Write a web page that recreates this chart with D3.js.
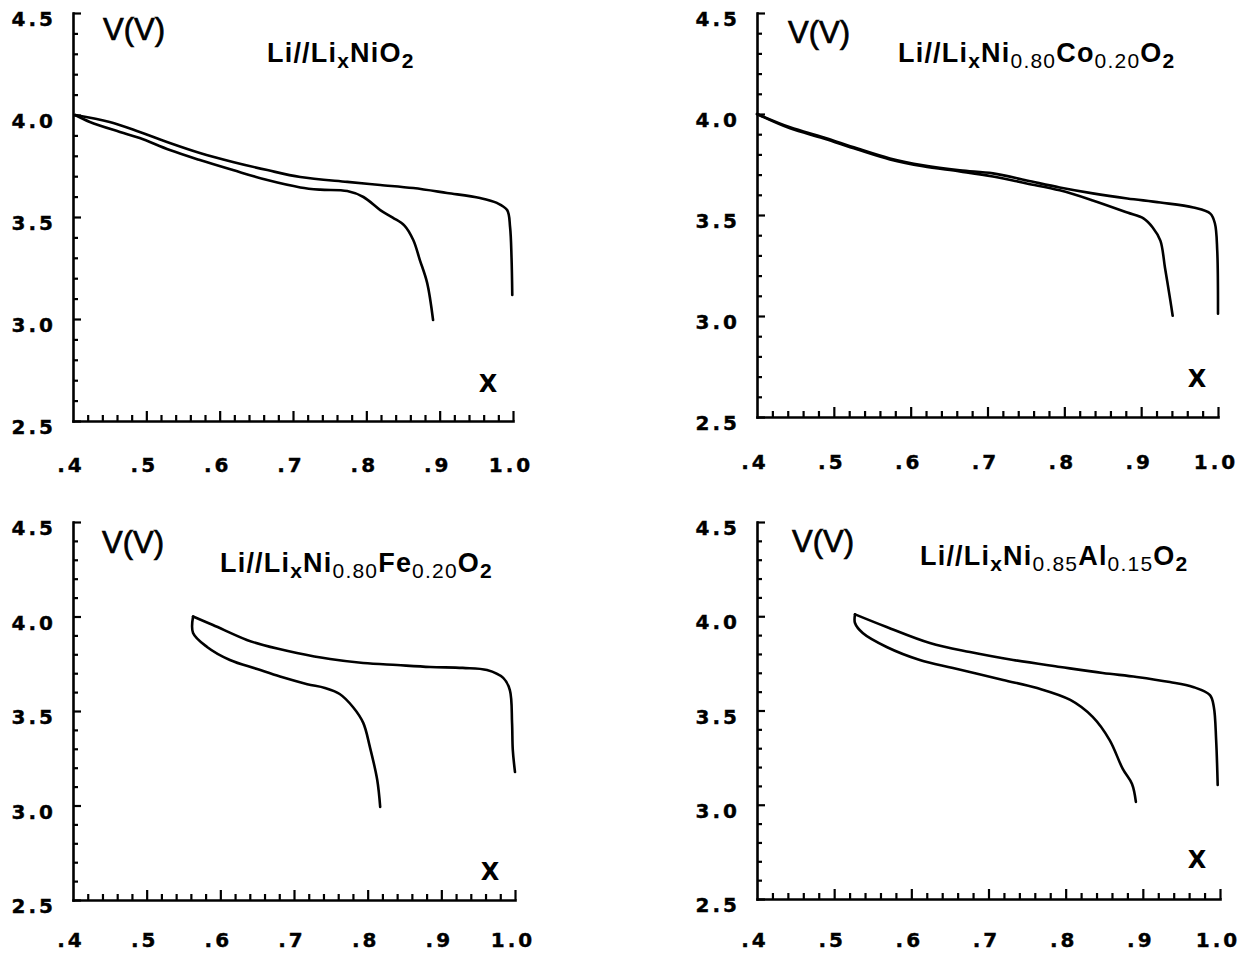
<!DOCTYPE html>
<html><head><meta charset="utf-8">
<script src="https://cdn.jsdelivr.net/npm/d3@7"></script>
<style>body{margin:0;background:#fff}svg{display:block}</style>
</head><body>
<svg id="c" width="1258" height="957"></svg>
<script>
// ---- tick values / labels ----
const yMajorValues = [2.5, 3.0, 3.5, 4.0, 4.5];
const yMajorLabels = ["2.5", "3.0", "3.5", "4.0", "4.5"];
const yMinorValues = [2.6,2.7,2.8,2.9,3.1,3.2,3.3,3.4,3.6,3.7,3.8,3.9,4.1,4.2,4.3,4.4];
const xMajorValues = [0.4, 0.5, 0.6, 0.7, 0.8, 0.9, 1.0];
const xMajorLabels = [".4", ".5", ".6", ".7", ".8", ".9", "1.0"];
const xMinorValues = [0.42,0.44,0.46,0.48,0.52,0.54,0.56,0.58,0.62,0.64,0.66,0.68,0.72,0.74,0.76,0.78,0.82,0.84,0.86,0.88,0.92,0.94,0.96,0.98];
const yAxisLabel = "V(V)";
const xAxisLabel = "X";

// ---- titles (segments; 1 = subscript) ----
const title1 = [["Li//Li",0],["x",1],["NiO",0],["2",1]];
const title2 = [["Li//Li",0],["x",1],["Ni",0],["0.80",1],["Co",0],["0.20",1],["O",0],["2",1]];
const title3 = [["Li//Li",0],["x",1],["Ni",0],["0.80",1],["Fe",0],["0.20",1],["O",0],["2",1]];
const title4 = [["Li//Li",0],["x",1],["Ni",0],["0.85",1],["Al",0],["0.15",1],["O",0],["2",1]];

// ---- series: [x, V] ----
const niO2Charge = [[0.403,4.0],[0.450,3.966],[0.491,3.917],[0.532,3.863],[0.573,3.814],[0.618,3.770],[0.665,3.730],[0.710,3.696],[0.774,3.672],[0.819,3.657],[0.864,3.642],[0.910,3.618],[0.955,3.593],[0.978,3.569],[0.992,3.534],[0.996,3.451],[0.998,3.30],[0.999,3.118]];
const niO2Discharge = [[0.403,4.0],[0.423,3.966],[0.464,3.917],[0.491,3.887],[0.532,3.828],[0.573,3.779],[0.618,3.730],[0.665,3.681],[0.710,3.645],[0.737,3.634],[0.774,3.627],[0.796,3.598],[0.819,3.534],[0.836,3.497],[0.852,3.458],[0.864,3.387],[0.873,3.289],[0.883,3.176],[0.891,2.995]];

const coCharge = [[0.400,4.0],[0.443,3.934],[0.486,3.885],[0.530,3.830],[0.573,3.780],[0.616,3.746],[0.664,3.721],[0.707,3.706],[0.751,3.671],[0.794,3.636],[0.837,3.607],[0.882,3.582],[0.925,3.562],[0.968,3.537],[0.990,3.507],[0.996,3.458],[0.999,3.324],[1.000,3.011]];
const coDischarge = [[0.400,4.0],[0.443,3.929],[0.486,3.880],[0.530,3.825],[0.573,3.775],[0.616,3.741],[0.664,3.716],[0.707,3.691],[0.751,3.656],[0.794,3.622],[0.837,3.572],[0.882,3.512],[0.903,3.483],[0.915,3.438],[0.925,3.373],[0.931,3.239],[0.938,3.076],[0.941,3.001]];

const feCharge = [[0.563,4.0],[0.590,3.955],[0.636,3.876],[0.658,3.849],[0.704,3.807],[0.749,3.775],[0.794,3.754],[0.840,3.743],[0.885,3.733],[0.929,3.728],[0.962,3.717],[0.984,3.675],[0.993,3.611],[0.996,3.437],[0.997,3.294],[1.000,3.177]];
const feDischarge = [[0.563,4.0],[0.563,3.913],[0.582,3.839],[0.613,3.770],[0.650,3.722],[0.681,3.682],[0.718,3.642],[0.742,3.622],[0.762,3.590],[0.780,3.521],[0.794,3.437],[0.803,3.310],[0.813,3.135],[0.817,2.992]];

const alCharge = [[0.527,4.01],[0.568,3.943],[0.624,3.858],[0.676,3.810],[0.732,3.768],[0.793,3.731],[0.848,3.699],[0.892,3.678],[0.935,3.651],[0.965,3.625],[0.987,3.582],[0.992,3.519],[0.995,3.343],[0.997,3.105]];
const alDischarge = [[0.527,4.01],[0.527,3.964],[0.537,3.911],[0.568,3.837],[0.611,3.768],[0.654,3.725],[0.719,3.662],[0.763,3.619],[0.806,3.556],[0.835,3.466],[0.857,3.343],[0.874,3.190],[0.886,3.110],[0.891,3.015]];

// ---- layout (positions only) ----
const panels = [
  {L:73, R:513, T:13, B:421, title:title1, tx:267, ty:62, vx:103, vy:40, Xx:488, Xy:392, xly:472, series:[niO2Charge, niO2Discharge]},
  {L:757, R:1218, T:13, B:417, title:title2, tx:898, ty:62, vx:788, vy:43, Xx:1197, Xy:387, xly:469, series:[coCharge, coDischarge]},
  {L:73, R:515, T:522, B:900, title:title3, tx:220, ty:572, vx:102, vy:553, Xx:490, Xy:880, xly:947, series:[feCharge, feDischarge]},
  {L:757, R:1220, T:522, B:899, title:title4, tx:920, ty:565, vx:792, vy:552, Xx:1197, Xy:868, xly:947, series:[alCharge, alDischarge]}
];

const svg = d3.select("#c");
const tickFont = "'DejaVu Sans', sans-serif";

panels.forEach(p => {
  const x = d3.scaleLinear().domain([0.4, 1.0]).range([p.L, p.R]);
  const y = d3.scaleLinear().domain([2.5, 4.5]).range([p.B, p.T]);
  const g = svg.append("g");

  // y axis
  const gy = g.append("g").attr("transform", `translate(${p.L},0)`);
  gy.call(d3.axisLeft(y).tickValues(yMajorValues).tickSize(-8).tickSizeOuter(0).tickFormat(""));
  gy.append("g").call(d3.axisLeft(y).tickValues(yMinorValues).tickSize(-5).tickSizeOuter(0).tickFormat("")).select(".domain").remove();
  // x axis
  const gx = g.append("g").attr("transform", `translate(0,${p.B})`);
  gx.call(d3.axisBottom(x).tickValues(xMajorValues.slice(1)).tickSize(-10).tickSizeOuter(0).tickFormat(""));
  gx.append("g").call(d3.axisBottom(x).tickValues(xMinorValues).tickSize(-6).tickSizeOuter(0).tickFormat("")).select(".domain").remove();

  g.selectAll(".domain").attr("stroke", "#000").attr("stroke-width", 2.6).attr("stroke-linecap","square");
  g.selectAll(".tick line").attr("stroke", "#000").attr("stroke-width", 2.2);

  // y tick labels
  g.selectAll(".ylab").data(yMajorValues).enter().append("text")
    .attr("x", p.L - 17).attr("y", d => y(d) + 13)
    .attr("text-anchor", "end")
    .style("font-family", tickFont).style("font-weight", "bold").style("font-size", "20px")
    .style("letter-spacing", "3px")
    .attr("stroke", "#000").attr("stroke-width", 0.4)
    .text((d, i) => yMajorLabels[i]);
  // x tick labels
  g.selectAll(".xlab").data(xMajorValues).enter().append("text")
    .attr("x", d => x(d) - 2).attr("y", p.xly)
    .attr("text-anchor", "middle")
    .style("font-family", tickFont).style("font-weight", "bold").style("font-size", "20px")
    .style("letter-spacing", "3px")
    .attr("stroke", "#000").attr("stroke-width", 0.4)
    .text((d, i) => xMajorLabels[i]);

  // V(V)
  g.append("text").attr("x", p.vx).attr("y", p.vy)
    .style("font-family", "'Liberation Sans', Arial, sans-serif").style("font-size", "31px")
    .attr("stroke", "#000").attr("stroke-width", 0.7)
    .text(yAxisLabel);
  // X
  g.append("text").attr("x", p.Xx).attr("y", p.Xy).attr("text-anchor", "middle")
    .style("font-family", tickFont).style("font-weight", "bold").style("font-size", "24px")
    .text(xAxisLabel);

  // title
  const t = g.append("text").attr("x", p.tx).attr("y", p.ty)
    .style("font-family", "'Liberation Sans', Arial, sans-serif").style("font-weight", "bold")
    .style("font-size", "27px").style("letter-spacing", "1.2px");
  let shifted = false;
  p.title.forEach(([s, sub]) => {
    const ts = t.append("tspan").text(s);
    if (sub && !shifted) { ts.attr("dy", 6).style("font-size", "21px"); shifted = true; }
    else if (sub) { ts.style("font-size", "21px"); }
    else if (!sub && shifted) { ts.attr("dy", -6); shifted = false; }
    if (sub && /\d\./.test(s)) ts.style("font-weight", "normal");
  });

  // curves
  const line = d3.line().x(d => x(d[0])).y(d => y(d[1])).curve(d3.curveCatmullRom.alpha(0.5));
  p.series.forEach(s => {
    g.append("path").datum(s).attr("d", line)
      .attr("fill", "none").attr("stroke", "#000").attr("stroke-width", 2.6)
      .attr("stroke-linejoin", "round").attr("stroke-linecap", "round");
  });
});
</script>
</body></html>
